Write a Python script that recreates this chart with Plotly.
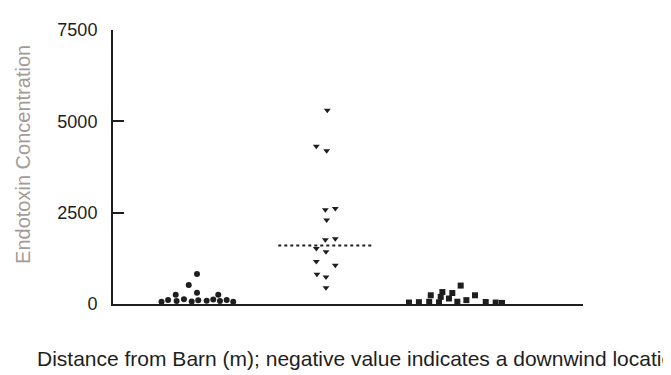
import plotly.graph_objects as go

# ---- data ----
categories = ["Group 1", "Group 2", "Group 3"]

g1_values = [822, 522, 310, 256, 256, 60, 110, 80, 130, 70, 100, 90, 120, 80, 110, 60]
g1_jitter = [0.0, -0.064, 0.0, -0.165, 0.165, -0.275, -0.224, -0.158, -0.101, -0.041,
             0.010, 0.075, 0.126, 0.178, 0.230, 0.281]

g2_values = [5300, 4320, 4195, 2579, 2615, 2297, 1758, 1785, 1520, 1431, 1166, 1060, 813, 742, 442]
g2_jitter = [0.01, -0.075, 0.005, -0.005, 0.072, 0.005, -0.005, 0.072, -0.075, 0.0,
             -0.075, 0.072, -0.07, 0.0, 0.0]
g2_median = 1598

g3_values = [504, 239, 327, 300, 194, 150, 239, 62, 106, 40, 50, 60, 45, 55, 40, 30]
g3_jitter = [0.044, -0.188, -0.098, -0.021, -0.111, -0.047, 0.155, 0.018, 0.088,
             -0.357, -0.28, -0.2, -0.124, 0.238, 0.315, 0.364]

y_ticks = [0, 2500, 5000, 7500]
y_title = "Endotoxin Concentration"
x_title = "Distance from Barn (m); negative value indicates a downwind location"

FONT = "Liberation Sans"
ink = "#1e1e1e"

fig = go.Figure()

groups = [
    (0, g1_values, g1_jitter, "circle"),
    (1, g2_values, g2_jitter, "triangle-down"),
    (2, g3_values, g3_jitter, "square"),
]
for idx, vals, jit, sym in groups:
    fig.add_trace(go.Scatter(
        x=[idx + j for j in jit], y=vals, mode="markers",
        name=categories[idx],
        marker=dict(symbol=sym, size=6, color=ink, line=dict(width=0)),
        cliponaxis=False, showlegend=False,
    ))

# median line of middle group
fig.add_trace(go.Scatter(
    x=[1 - 0.37, 1 + 0.37], y=[g2_median, g2_median], mode="lines",
    line=dict(color=ink, width=2, dash="dot"), showlegend=False,
))

fig.update_layout(
    width=671, height=375,
    margin=dict(l=105, r=96, t=13, b=79),
    paper_bgcolor="white", plot_bgcolor="white",
    font=dict(family=FONT, size=18, color=ink),
    xaxis=dict(range=[-0.651, 2.992], showline=True, linecolor=ink, linewidth=2,
               showticklabels=False, ticks="", showgrid=False, zeroline=False),
    yaxis=dict(range=[0, 7500], showline=True, linecolor=ink, linewidth=2,
               tickvals=y_ticks, ticktext=[str(v) for v in y_ticks],
               ticks="inside", ticklen=11, tickwidth=2, tickcolor=ink,
               ticklabelstandoff=10,
               showgrid=False, zeroline=False,
               tickfont=dict(family=FONT, size=18, color=ink)),
    annotations=[
        dict(text=y_title, xref="paper", yref="paper",
             x=(23 - 113) / 470, y=(304 - 150) / 283, textangle=-90,
             xanchor="center", yanchor="middle", showarrow=False,
             font=dict(family=FONT, size=20, color="#a39b95")),
        dict(text=x_title, xref="paper", yref="paper",
             x=(35 - 113) / 470, y=(304 - 360) / 283,
             xanchor="left", yanchor="middle", showarrow=False,
             font=dict(family=FONT, size=21, color=ink)),
    ],
)

fig.write_html("out.html")
